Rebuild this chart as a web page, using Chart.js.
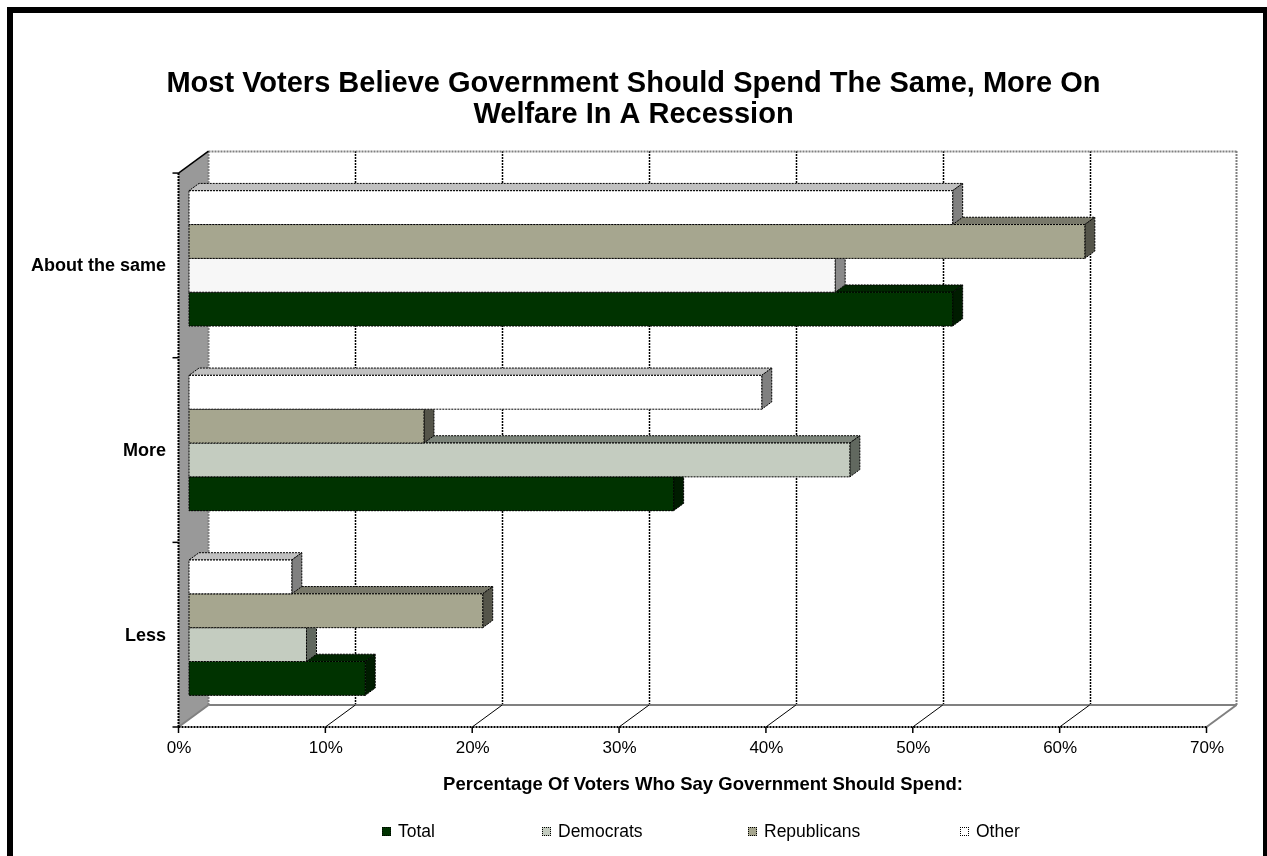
<!DOCTYPE html>
<html>
<head>
<meta charset="utf-8">
<script src="https://cdn.jsdelivr.net/npm/chart.js@4.4.1/dist/chart.umd.min.js"></script>
<style>
  html, body { margin: 0; padding: 0; background: #fff; overflow: hidden; }
  #wrap { position: relative; width: 1267px; height: 856px; }
  #chart { position: absolute; left: 0; top: 0; }
  #frame { position: absolute; left: 7px; top: 7px; width: 1262px; height: 900px; border: 6px solid #000; box-sizing: border-box; pointer-events: none; }
  #legend { position: absolute; left: 0; top: 821px; width: 1267px; height: 20px; font: 17.5px "Liberation Sans", Arial, sans-serif; color: #000; }
  .item { position: absolute; top: 0; height: 20px; display: flex; align-items: center; white-space: nowrap; }
  .box { width: 7px; height: 7px; border: 1px dotted #000; margin-right: 7px; }
</style>
</head>
<body>
<div id="wrap">
  <canvas id="chart" width="1267" height="856"></canvas>
  <div id="legend"></div>
  <div id="frame"></div>
</div>
<script>
const categories = ["About the same", "More", "Less"];
const seriesNames = ["Total", "Democrats", "Republicans", "Other"];
const totalValues = [52, 33, 12];
const democratValues = [44, 45, 8];
const republicanValues = [61, 16, 20];
const otherValues = [52, 39, 7];
const tickValues = [0, 10, 20, 30, 40, 50, 60, 70];
const titleLines = ["Most Voters Believe Government Should Spend The Same, More On", "Welfare In A Recession"];
const axisTitle = "Percentage Of Voters Who Say Government Should Spend:";

const FONT = '"Liberation Sans", Arial, sans-serif';

// face colours per series (front, top, side); arrays are per category
const faceStyles = {
  Total: { front: "#003300", top: "#002600", side: "#001c00" },
  Democrats: {
    front: ["#F7F7F7", "#C4CCC0", "#C4CCC0"],
    top: ["#C8C8C8", "#7C847A", "#7C847A"],
    side: ["#8A8A8A", "#61685F", "#61685F"],
  },
  Republicans: { front: "#A6A68F", top: "#78786A", side: "#55554A" },
  Other: { front: "#FFFFFF", top: "#C0C0C0", side: "#808080" },
};

// top-to-bottom inside each group
const series = [
  { name: "Other", values: otherValues },
  { name: "Republicans", values: republicanValues },
  { name: "Democrats", values: democratValues },
  { name: "Total", values: totalValues },
];

// 3d projection offsets relative to the bar plane
const FRONT = { dx: -10.5, dy: 7 };
const DEPTH = { dx: 30, dy: -22 };
const BAR = { dx: 10, dy: -7.3 };

function pick(c, i) {
  return Array.isArray(c) ? c[i] : c;
}

function poly(ctx, pts, fill, stroke, dash) {
  ctx.beginPath();
  ctx.moveTo(pts[0][0], pts[0][1]);
  for (let i = 1; i < pts.length; i++) ctx.lineTo(pts[i][0], pts[i][1]);
  ctx.closePath();
  if (fill) {
    ctx.fillStyle = fill;
    ctx.fill();
  }
  if (stroke) {
    ctx.setLineDash(dash || []);
    ctx.strokeStyle = stroke;
    ctx.lineWidth = 1;
    ctx.stroke();
  }
}

function line(ctx, x1, y1, x2, y2, color, width, dash) {
  ctx.beginPath();
  ctx.setLineDash(dash || []);
  ctx.strokeStyle = color;
  ctx.lineWidth = width;
  ctx.moveTo(x1, y1);
  ctx.lineTo(x2, y2);
  ctx.stroke();
}

const frame3d = {
  id: "frame3d",
  beforeDatasetsDraw(chart) {
    const { ctx, chartArea: a, scales: { x } } = chart;
    const fx = (v) => x.getPixelForValue(v) + FRONT.dx;
    const bx = (v) => fx(v) + DEPTH.dx;
    const fTop = a.top + FRONT.dy;
    const fBot = a.bottom + FRONT.dy;
    const bTop = fTop + DEPTH.dy;
    const bBot = fBot + DEPTH.dy;
    const vMax = tickValues[tickValues.length - 1];
    ctx.save();

    // back wall gridlines
    for (const v of tickValues) {
      if (v === 0 || v === vMax) continue;
      line(ctx, Math.round(bx(v)) + 0.5, bTop, Math.round(bx(v)) + 0.5, bBot, "#000", 1.5, [2, 1]);
    }
    // back wall outline
    line(ctx, bx(0), bTop + 0.5, bx(vMax), bTop + 0.5, "#808080", 2, [2, 1]);
    line(ctx, bx(vMax), bTop, bx(vMax), bBot, "#808080", 2, [2, 1]);

    // floor
    line(ctx, bx(0), bBot, bx(vMax), bBot, "#808080", 2);
    line(ctx, fx(vMax), fBot, bx(vMax), bBot, "#808080", 2);
    for (const v of tickValues) {
      if (v === 0 || v === vMax) continue;
      line(ctx, fx(v), fBot, bx(v), bBot, "#000", 1);
    }

    // left wall
    poly(ctx, [[fx(0), fTop], [bx(0), bTop], [bx(0), bBot], [fx(0), fBot]], "#999999");
    line(ctx, bx(0), bTop, bx(0), bBot, "#808080", 2, [2, 1]);
    line(ctx, fx(0), fBot, bx(0), bBot, "#808080", 2);
    line(ctx, fx(0), fTop, bx(0), bTop, "#000", 1.5);

    // front axes
    line(ctx, fx(0), fBot, fx(vMax), fBot, "#000", 2, [2, 1]);
    line(ctx, fx(0), fTop, fx(0), fBot, "#000", 2, [2, 1]);
    for (const v of tickValues) {
      line(ctx, fx(v), fBot, fx(v), fBot + 6, "#000", 1.5);
    }
    const n = categories.length;
    for (let k = 0; k <= n; k++) {
      const yy = fTop + (k * (fBot - fTop)) / n;
      line(ctx, fx(0) - 6, yy, fx(0), yy, "#000", 1.5);
    }
    ctx.restore();
  },
  afterDatasetsDraw(chart) {
    const { ctx } = chart;
    ctx.save();
    for (let d = chart.data.datasets.length - 1; d >= 0; d--) {
      const meta = chart.getDatasetMeta(d);
      const st = faceStyles[chart.data.datasets[d].label];
      meta.data.forEach((el, i) => {
        const p = el.getProps(["x", "y", "base", "height"], true);
        const l = Math.min(p.base, p.x);
        const r = Math.max(p.base, p.x);
        const t = p.y - p.height / 2;
        const b = p.y + p.height / 2;
        const dash = [2, 1];
        poly(ctx, [[l, t], [r, t], [r + BAR.dx, t + BAR.dy], [l + BAR.dx, t + BAR.dy]], pick(st.top, i), "#000", dash);
        poly(ctx, [[r, t], [r + BAR.dx, t + BAR.dy], [r + BAR.dx, b + BAR.dy], [r, b]], pick(st.side, i), "#000", dash);
        poly(ctx, [[l, t], [r, t], [r, b], [l, b]], pick(st.front, i), "#000", dash);
      });
    }
    ctx.restore();
  },
};

new Chart(document.getElementById("chart"), {
  type: "bar",
  data: {
    labels: categories,
    datasets: series.map((s) => ({
      label: s.name,
      data: s.values,
      backgroundColor: faceStyles[s.name].front,
      borderWidth: 0,
    })),
  },
  options: {
    indexAxis: "y",
    responsive: false,
    animation: false,
    layout: { padding: 0 },
    datasets: { bar: { categoryPercentage: 0.733, barPercentage: 1 } },
    plugins: {
      legend: { display: false },
      tooltip: { enabled: false },
      title: {
        display: true,
        text: titleLines,
        color: "#000",
        font: { family: FONT, size: 29, weight: "bold", lineHeight: 1.07 },
        padding: { top: 68.5, bottom: 35.5 },
      },
    },
    scales: {
      x: {
        min: 0,
        max: 70,
        afterBuildTicks: (s) => {
          s.ticks = tickValues.map((v) => ({ value: v }));
        },
        grid: { display: false, drawTicks: false },
        border: { display: false },
        ticks: {
          autoSkip: false,
          maxRotation: 0,
          callback: (v) => v + "%",
          labelOffset: -10,
          padding: 18,
          color: "#000",
          font: { family: FONT, size: 17 },
        },
        title: {
          display: true,
          text: axisTitle,
          color: "#000",
          font: { family: FONT, size: 18.5, weight: "bold" },
          padding: { top: 0, bottom: 60 },
        },
        afterFit: (s) => {
          s.height = 136;
        },
      },
      y: {
        grid: { display: false, drawTicks: false },
        border: { display: false },
        ticks: {
          labelOffset: 8,
          padding: 23,
          color: "#000",
          font: { family: FONT, size: 18, weight: "bold" },
        },
        afterFit: (s) => {
          s.width = 189;
        },
      },
      // empty right-hand axis, keeps the plot clear of the right edge
      yRight: {
        type: "category",
        position: "right",
        grid: { display: false, drawTicks: false },
        border: { display: false },
        ticks: { display: false },
        afterFit: (s) => {
          s.width = 50;
        },
      },
    },
  },
  plugins: [frame3d],
});

// legend, Excel-style spacing
const legendX = [382, 542, 748, 960];
const legend = document.getElementById("legend");
seriesNames.forEach((name, i) => {
  const item = document.createElement("div");
  item.className = "item";
  item.style.left = legendX[i] + "px";
  const box = document.createElement("span");
  box.className = "box";
  const f = faceStyles[name].front;
  box.style.background = Array.isArray(f) ? f[1] : f;
  const label = document.createElement("span");
  label.textContent = name;
  item.appendChild(box);
  item.appendChild(label);
  legend.appendChild(item);
});
</script>
</body>
</html>
